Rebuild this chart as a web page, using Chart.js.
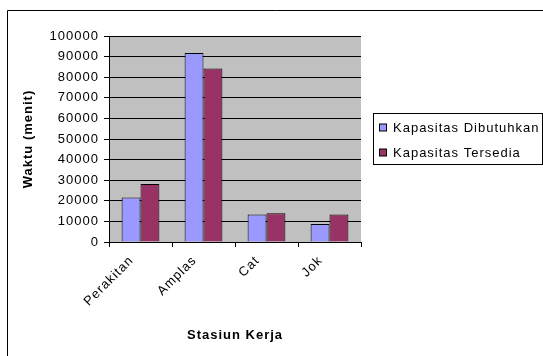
<!DOCTYPE html>
<html>
<head>
<meta charset="utf-8">
<script src="https://cdn.jsdelivr.net/npm/chart.js@4/dist/chart.umd.min.js"></script>
<style>
  html, body { margin: 0; padding: 0; background: #fff; }
  canvas { display: block; }
</style>
</head>
<body>
<canvas id="chart" width="543" height="356"></canvas>
<script>
// Kapasitas per stasiun kerja (menit)
const categories = ['Perakitan', 'Amplas', 'Cat', 'Jok'];
const seriesNames = ['Kapasitas Dibutuhkan', 'Kapasitas Tersedia'];
const kapasitasDibutuhkan = [21600, 91800, 13400, 8700];
const kapasitasTersedia = [28100, 84200, 14000, 13400];
const yTicks = [0, 10000, 20000, 30000, 40000, 50000, 60000, 70000, 80000, 90000, 100000];
const xTitle = 'Stasiun Kerja';
const yTitle = 'Waktu (menit)';

const seriesColors = ['#9999FF', '#993366'];
const FONT = "'Liberation Sans', Arial, sans-serif";
const SPACING = '1px';

// wider glyph advance, like the classic GDI text rendering
const spacingPlugin = {
  id: 'spacing',
  beforeLayout(chart) { chart.ctx.letterSpacing = SPACING; },
  beforeDraw(chart) { chart.ctx.letterSpacing = SPACING; }
};

// page background, grey plot area and the frame lines
const backgroundPlugin = {
  id: 'background',
  beforeDraw(chart) {
    const { ctx, chartArea: a } = chart;
    ctx.save();
    ctx.fillStyle = '#fff';
    ctx.fillRect(0, 0, chart.width, chart.height);
    ctx.fillStyle = '#C0C0C0';
    ctx.fillRect(a.left, a.top, a.right - a.left, a.bottom - a.top);
    ctx.strokeStyle = '#000';
    ctx.lineWidth = 1;
    ctx.beginPath();
    ctx.moveTo(7.5, chart.height);
    ctx.lineTo(7.5, 10.5);
    ctx.lineTo(chart.width, 10.5);
    ctx.stroke();
    ctx.restore();
  }
};

// boxed legend to the right of the plot
const boxLegendPlugin = {
  id: 'boxLegend',
  afterDraw(chart) {
    const { ctx } = chart;
    const box = { x: 373.5, y: 113.5, w: 169, h: 51 };
    ctx.save();
    ctx.letterSpacing = SPACING;
    ctx.strokeStyle = '#000';
    ctx.lineWidth = 1;
    ctx.fillStyle = '#fff';
    ctx.fillRect(box.x, box.y, box.w, box.h);
    ctx.strokeRect(box.x, box.y, box.w, box.h);
    ctx.font = '13px ' + FONT;
    ctx.textBaseline = 'middle';
    ctx.textAlign = 'left';
    chart.data.datasets.forEach((ds, i) => {
      const cy = 128 + i * 25;
      ctx.fillStyle = ds.backgroundColor;
      ctx.fillRect(379.5, cy - 4, 7, 7);
      ctx.strokeRect(379.5, cy - 4, 7, 7);
      ctx.fillStyle = '#000';
      ctx.fillText(ds.label, 393, cy + 0.5);
    });
    ctx.restore();
  }
};

new Chart(document.getElementById('chart'), {
  type: 'bar',
  data: {
    labels: categories,
    datasets: [
      { label: seriesNames[0], data: kapasitasDibutuhkan, backgroundColor: seriesColors[0] },
      { label: seriesNames[1], data: kapasitasTersedia, backgroundColor: seriesColors[1] }
    ]
  },
  options: {
    responsive: false,
    animation: false,
    devicePixelRatio: 1,
    layout: { padding: { left: 7, top: 36, right: 182, bottom: 0 } },
    datasets: {
      bar: { categoryPercentage: 0.6, barPercentage: 1.0, borderColor: '#000', borderWidth: 1 }
    },
    plugins: { legend: { display: false }, tooltip: { enabled: false } },
    scales: {
      x: {
        grid: { offset: true, drawOnChartArea: false, drawTicks: true, tickLength: 5, color: '#000' },
        border: { color: '#000', width: 1 },
        ticks: { maxRotation: 45, minRotation: 45, color: '#000', font: { family: FONT, size: 13 }, padding: 6, labelOffset: -9 },
        title: { display: true, text: xTitle, color: '#000', font: { family: FONT, size: 13, weight: 'bold' }, padding: { top: 0, bottom: 13 } },
        afterFit(s) { s.height = 114; }
      },
      y: {
        min: 0,
        max: 100000,
        afterBuildTicks(s) { s.ticks = yTicks.map(v => ({ value: v })); },
        grid: { color: '#000', drawTicks: true, tickLength: 5 },
        border: { color: '#000', width: 1 },
        ticks: { color: '#000', font: { family: FONT, size: 13 }, padding: 5, callback: v => String(v) },
        title: { display: true, text: yTitle, color: '#000', font: { family: FONT, size: 13, weight: 'bold' }, padding: { top: 14, bottom: 0 } },
        afterFit(s) { s.width = 102; }
      }
    }
  },
  plugins: [spacingPlugin, backgroundPlugin, boxLegendPlugin]
});
</script>
</body>
</html>
